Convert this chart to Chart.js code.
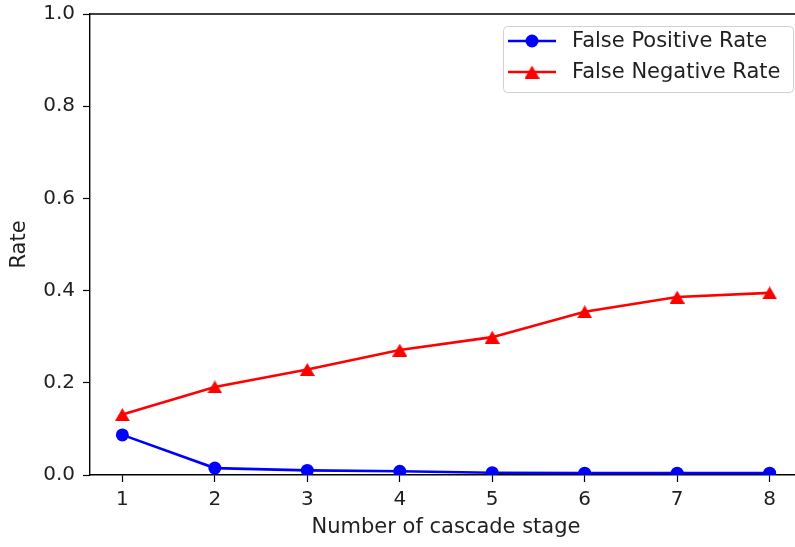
<!DOCTYPE html>
<html>
<head>
<meta charset="utf-8">
<script src="https://cdn.jsdelivr.net/npm/chart.js@4/dist/chart.umd.min.js"></script>
<style>
  html, body { margin: 0; padding: 0; background: #fff; overflow: hidden; width: 795px; height: 547px; }
  #wrap { position: absolute; left: 0; top: 0; width: 795px; height: 547px; overflow: hidden; }
  #c { display: block; }
</style>
</head>
<body>
<div id="wrap"><canvas id="c" width="809" height="547"></canvas></div>
<script>
const stages = [1, 2, 3, 4, 5, 6, 7, 8];
const falsePositiveRate = [0.087, 0.015, 0.010, 0.008, 0.005, 0.004, 0.004, 0.004];
const falseNegativeRate = [0.131, 0.191, 0.229, 0.271, 0.299, 0.354, 0.386, 0.395];
const yTicks = [0, 0.2, 0.4, 0.6, 0.8, 1.0];
const seriesLabels = ['False Positive Rate', 'False Negative Rate'];
const xTitle = 'Number of cascade stage';
const yTitle = 'Rate';

const FONT = 'DejaVu Sans';
const TICK_FS = 20;
const LABEL_FS = 21;
const TEXT_COLOR = '#1f1f1f';

const toPts = (vals) => stages.map((s, i) => ({ x: s, y: vals[i] }));

function makeTriangle(color, w, h) {
  const c = document.createElement('canvas');
  c.width = w; c.height = h;
  const g = c.getContext('2d');
  g.fillStyle = color;
  g.beginPath();
  g.moveTo(w / 2, 0);
  g.lineTo(w, h);
  g.lineTo(0, h);
  g.closePath();
  g.fill();
  return c;
}
const triRed = makeTriangle('#ff0000', 15, 13);

const frameAndLegend = {
  id: 'frameAndLegend',
  afterDraw(chart) {
    const { ctx, chartArea: a } = chart;
    ctx.save();
    // top spine (right spine lies outside the visible window)
    ctx.strokeStyle = '#000';
    ctx.lineWidth = 1.4;
    ctx.beginPath();
    ctx.moveTo(a.left, a.top); ctx.lineTo(a.right, a.top);
    ctx.stroke();

    const bx = 503.5, by = 26.5, bw = 290, bh = 66, r = 4;
    ctx.fillStyle = 'rgba(255,255,255,0.85)';
    ctx.strokeStyle = '#d0d0d0';
    ctx.lineWidth = 1;
    ctx.beginPath();
    ctx.moveTo(bx + r, by);
    ctx.lineTo(bx + bw - r, by); ctx.arcTo(bx + bw, by, bx + bw, by + r, r);
    ctx.lineTo(bx + bw, by + bh - r); ctx.arcTo(bx + bw, by + bh, bx + bw - r, by + bh, r);
    ctx.lineTo(bx + r, by + bh); ctx.arcTo(bx, by + bh, bx, by + bh - r, r);
    ctx.lineTo(bx, by + r); ctx.arcTo(bx, by, bx + r, by, r);
    ctx.closePath();
    ctx.fill(); ctx.stroke();

    const rows = [41, 72];
    chart.data.datasets.forEach((ds, i) => {
      const y = rows[i];
      ctx.strokeStyle = ds.borderColor;
      ctx.lineWidth = ds.borderWidth;
      ctx.beginPath(); ctx.moveTo(508, y); ctx.lineTo(556, y); ctx.stroke();
      if (ds.pointStyle === 'circle') {
        ctx.fillStyle = ds.backgroundColor;
        ctx.beginPath();
        ctx.arc(532, y, ds.pointRadius, 0, Math.PI * 2);
        ctx.fill();
      } else {
        const img = ds.pointStyle;
        ctx.drawImage(img, 532 - img.width / 2, y - img.height / 2);
      }
      ctx.fillStyle = TEXT_COLOR;
      ctx.font = LABEL_FS + 'px "' + FONT + '"';
      ctx.textAlign = 'left';
      ctx.textBaseline = 'middle';
      ctx.fillText(ds.label, 572, y + 1);
    });
    ctx.restore();
  }
};

new Chart(document.getElementById('c'), {
  type: 'line',
  data: {
    datasets: [
      {
        label: seriesLabels[0],
        data: toPts(falsePositiveRate),
        borderColor: '#0000ff',
        backgroundColor: '#0000ff',
        borderWidth: 2.6,
        pointStyle: 'circle',
        pointRadius: 6.5,
        pointBorderWidth: 0,
        tension: 0
      },
      {
        label: seriesLabels[1],
        data: toPts(falseNegativeRate),
        borderColor: '#ff0000',
        backgroundColor: '#ff0000',
        borderWidth: 2.6,
        pointStyle: triRed,
        pointRadius: 7,
        pointBorderWidth: 0,
        tension: 0
      }
    ]
  },
  options: {
    responsive: false,
    animation: false,
    events: [],
    layout: { padding: { left: 0, top: 14, right: 0, bottom: 0 } },
    plugins: { legend: { display: false }, tooltip: { enabled: false } },
    scales: {
      x: {
        type: 'linear',
        min: 0.65,
        max: 8.35,
        afterBuildTicks: (s) => { s.ticks = stages.map(v => ({ value: v })); },
        afterFit: (s) => { s.height = 72; s.paddingLeft = 0; s.paddingRight = 0; },
        grid: { drawOnChartArea: false, drawTicks: true, tickLength: 7, color: '#000', tickWidth: 1.2 },
        border: { display: true, color: '#000', width: 1.4 },
        ticks: { color: TEXT_COLOR, font: { family: FONT, size: TICK_FS }, padding: 6, maxRotation: 0, autoSkip: false,
                 callback: (v) => String(v) },
        title: { display: true, text: xTitle, color: TEXT_COLOR, font: { family: FONT, size: LABEL_FS }, padding: { top: 0, bottom: 6.4 } }
      },
      y: {
        type: 'linear',
        min: 0,
        max: 1,
        afterBuildTicks: (s) => { s.ticks = yTicks.map(v => ({ value: v })); },
        afterFit: (s) => { s.width = 90; s.paddingTop = 0; s.paddingBottom = 0; },
        grid: { drawOnChartArea: false, drawTicks: true, tickLength: 7, color: '#000', tickWidth: 1.2 },
        border: { display: true, color: '#000', width: 1.4 },
        ticks: { color: TEXT_COLOR, font: { family: FONT, size: TICK_FS }, padding: 8,
                 callback: (v) => Number(v).toFixed(1) },
        title: { display: true, text: yTitle, color: TEXT_COLOR, font: { family: FONT, size: LABEL_FS }, padding: { top: 7.4, bottom: 0 } }
      }
    }
  },
  plugins: [frameAndLegend]
});
</script>
</body>
</html>
